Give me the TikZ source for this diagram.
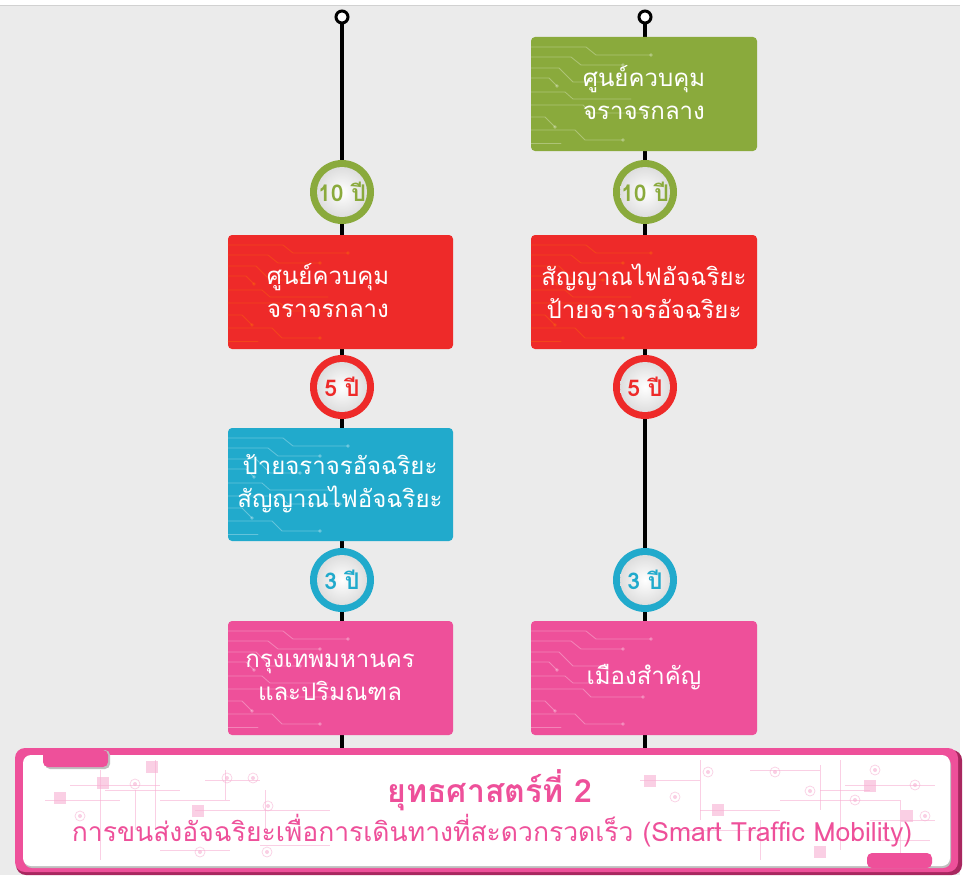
\documentclass[tikz,border=0pt]{standalone}
\usepackage{fontspec}
\newfontfamily\thai[Script=Thai]{Loma}
\definecolor{bg}{HTML}{EBEBEB}
\definecolor{cgreen}{HTML}{8AAA3C}
\definecolor{cred}{HTML}{EE2A29}
\definecolor{cblue}{HTML}{21AACC}
\definecolor{cpink}{HTML}{EE509A}
\definecolor{cdark}{HTML}{A8275F}
\tikzset{
  x=1pt, y=-1pt,
  track/.style={line width=4pt, black},
  capring/.style={line width=3pt, black, fill=white},
  card/.style={rounded corners=4pt},
  cardtext/.style={text=white, align=center, font=\thai\fontsize{24}{33}\selectfont},
  trace/.style={line width=0.8pt, line cap=round},
  badgetext/.style={font=\thai\bfseries\fontsize{23}{25}\selectfont, inner sep=0pt},
}
% circuit-board traces in the left part of a card
\newcommand{\circuit}[3]{% #1 = x, #2 = y of top-left corner, #3 = colour
  \begin{scope}[shift={(#1,#2)}, draw=#3, fill=#3, opacity=0.3]
    \draw[trace] (0,10) -- (55,10) -- (65,18) -- (120,18);
    \fill (120,18) circle (1.8);
    \draw[trace] (0,20) -- (40,20) -- (50,28) -- (92,28);
    \fill (92,28) circle (1.8);
    \draw[trace] (0,31) -- (28,31) -- (42,45) -- (72,45);
    \fill (72,45) circle (1.8);
    \draw[trace] (0,41) -- (18,41) -- (26,49);
    \fill (26,49) circle (1.8);
    \draw[trace] (0,55) -- (34,55) -- (42,62) -- (100,62);
    \draw[trace] (0,68) -- (52,68) -- (60,76) -- (112,76);
    \fill (112,76) circle (1.8);
    \draw[trace] (0,80) -- (14,80) -- (24,90);
    \fill (24,90) circle (1.8);
    \draw[trace] (0,93) -- (44,93) -- (54,103) -- (92,103);
    \fill (92,103) circle (1.8);
    \draw[trace] (0,106) -- (30,106);
  \end{scope}}
\newcommand{\badge}[4]{% #1 name, #2 centre, #3 colour, #4 label
  \fill[#3] (#2) circle (32);
  \shade[inner color=white, outer color=black!13] (#2) circle (25);
  \node[badgetext, text=#3] (#1) at (#2) {#4};}
\begin{document}
\begin{tikzpicture}
\useasboundingbox (0,0) rectangle (965,875);
% page
\fill[white] (0,0) rectangle (965,875);
\fill[bg] (0,6) rectangle (960,875);
\draw[black!18, line width=1pt] (0,5.5) -- (960,5.5);

% tracks
\coordinate (ltop) at (342,17);
\coordinate (rtop) at (645,17);
\coordinate (lbot) at (342,752);
\coordinate (rbot) at (645,752);
\draw[track] (ltop) -- (lbot);
\draw[track] (rtop) -- (rbot);
\draw[capring] (ltop) circle (6);
\draw[capring] (rtop) circle (6);

% left column cards
\fill[card, cred] (228,235) rectangle (453,349);
\circuit{228}{235}{orange}
\node[cardtext] (l1) at (328,291) {ศูนย์ควบคุม\\จราจรกลาง};
\fill[card, cblue] (228,428) rectangle (453,541);
\circuit{228}{428}{white}
\node[cardtext] (l2) at (340,484) {ป้ายจราจรอัจฉริยะ\\สัญญาณไฟอัจฉริยะ};
\fill[card, cpink] (228,621) rectangle (453,735);
\circuit{228}{621}{white}
\node[cardtext] (l3) at (330,677) {กรุงเทพมหานคร\\และปริมณฑล};

% right column cards
\fill[card, cgreen] (531,37) rectangle (757,151);
\circuit{531}{37}{white}
\node[cardtext] (r0) at (644,93) {ศูนย์ควบคุม\\จราจรกลาง};
\fill[card, cred] (531,235) rectangle (757,349);
\circuit{531}{235}{orange}
\node[cardtext] (r1) at (644,291) {สัญญาณไฟอัจฉริยะ\\ป้ายจราจรอัจฉริยะ};
\fill[card, cpink] (531,621) rectangle (757,735);
\circuit{531}{621}{white}
\node[cardtext] (r3) at (644,677) {เมืองสำคัญ};

% year badges
\badge{lb10}{342,192}{cgreen}{10 ปี}
\badge{lb5}{342,387}{cred}{5 ปี}
\badge{lb3}{342,580}{cblue}{3 ปี}
\badge{rb10}{645,192}{cgreen}{10 ปี}
\badge{rb5}{645,387}{cred}{5 ปี}
\badge{rb3}{645,580}{cblue}{3 ปี}

% strategy banner
\fill[cdark, rounded corners=10pt] (16,750) rectangle (962,875);
\fill[cpink, rounded corners=10pt] (15,748) rectangle (958,872);
\fill[black!25, rounded corners=8pt] (24,757) rectangle (951,868);
\fill[white, rounded corners=8pt] (23,755) rectangle (950,866);
% banner circuit pattern
\begin{scope}[cpink!45, opacity=0.6, line width=0.7pt]
  \foreach \a/\b/\c/\d in {45/800/120/800, 70/785/160/785, 100/770/100/860, 135/790/135/830,
      105/790/180/790, 155/760/155/830, 160/800/230/800, 195/810/330/810, 205/780/260/780,
      225/770/225/800, 265/790/265/830, 160/850/230/850, 260/845/330/845}
    \draw (\a,\b) -- (\c,\d);
  \foreach \a/\b/\c/\d in {640/780/700/780, 700/760/700/820, 700/810/780/810, 780/800/900/800,
      750/770/820/770, 820/765/820/810, 820/790/870/790, 840/760/840/850, 845/785/935/785,
      870/820/935/820, 900/800/900/860, 680/830/760/830, 760/820/760/860, 880/840/930/840}
    \draw (\a,\b) -- (\c,\d);
  \foreach \p in {(60,798),(103,783),(152,767),(198,811),(650,781),(718,810),(870,786),(907,816),(820,852)}
    \fill \p ++(-6,-6) rectangle ++(12,12);
  \foreach \p in {(80,816),(135,784),(227,778),(253,778),(268,806),(200,852),(267,852),
                  (675,797),(708,772),(775,772),(810,791),(875,770),(915,785),(925,816),(855,800)}
  { \draw \p circle (5); \fill \p circle (2); }
\end{scope}
% banner tabs
\fill[black!25, rounded corners=5pt] (45,750) -- (45,769) -- (110,769) -- (110,750) -- cycle;
\fill[cpink, rounded corners=5pt] (43,750) -- (43,767) -- (108,767) -- (108,750) -- cycle;
\fill[cpink, rounded corners=5pt] (867,868) -- (867,853) -- (932,853) -- (932,868) -- cycle;

\node[font=\thai\bfseries\fontsize{32}{34}\selectfont, text=cpink] (title) at (490,790) {ยุทธศาสตร์ที่ 2};
\node[font=\thai\fontsize{26.5}{30}\selectfont, text=cpink] (subtitle) at (492,831)
  {การขนส่งอัจฉริยะเพื่อการเดินทางที่สะดวกรวดเร็ว (Smart Traffic Mobility)};
\end{tikzpicture}
\end{document}
